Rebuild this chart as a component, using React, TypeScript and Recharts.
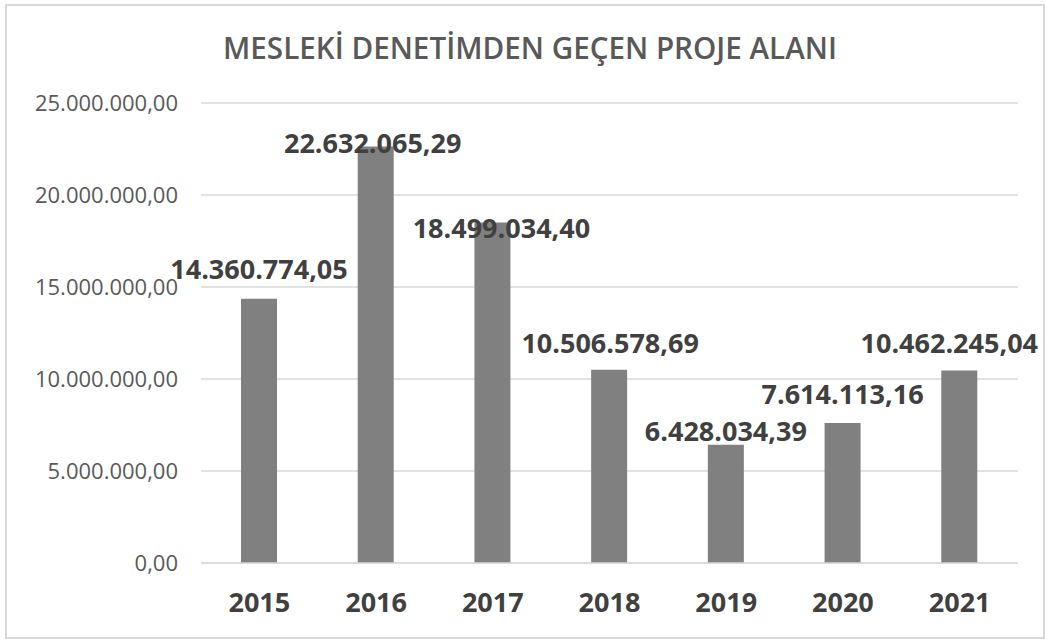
import React from 'react'
import { BarChart, Bar, XAxis, YAxis, CartesianGrid, LabelList } from 'recharts'

const years = ['2015', '2016', '2017', '2018', '2019', '2020', '2021']
const areas = [
  14360774.05, 22632065.29, 18499034.4, 10506578.69, 6428034.39, 7614113.16, 10462245.04,
]
const yTicks = [0, 5000000, 10000000, 15000000, 20000000, 25000000]

// label nudges, the Excel labels were dragged around by hand
const labelDx = [0, -3, 9, 1, 0, 0, -10]
const labelDy = [-20, 6, 15, -17, -4, -19, -17]

const data = years.map((year, i) => ({ year, area: areas[i] }))

function formatTr(v: number) {
  const [int, dec] = v.toFixed(2).split('.')
  return int.replace(/\B(?=(\d{3})+(?!\d))/g, '.') + ',' + dec
}

const font = '"Open Sans", sans-serif'

function BarLabel(props: any) {
  const { x, y, width, value, index } = props
  return (
    <text
      x={Number(x) + Number(width) / 2 + labelDx[index]}
      y={Number(y) + labelDy[index]}
      textAnchor="middle"
      fontFamily={font}
      fontWeight={700}
      fontSize={27}
      fill="#404040"
    >
      {formatTr(Number(value))}
    </text>
  )
}

export default function App() {
  return (
    <div style={{ position: 'absolute', left: 0, top: 0, width: 1047, height: 639, background: '#fff' }}>
      <div
        style={{
          position: 'absolute', left: 5, top: 4, width: 1036, height: 631,
          border: '2px solid #d9d9d9',
        }}
      />
      <svg width={1047} height={80} style={{ position: 'absolute', left: 0, top: 0 }}>
        <text
          x={530}
          y={59}
          textAnchor="middle"
          fontFamily={font}
          fontWeight={600}
          fontSize={30}
          fill="#595959"
          textLength={614}
          lengthAdjust="spacingAndGlyphs"
        >
          MESLEKİ DENETİMDEN GEÇEN PROJE ALANI
        </text>
      </svg>
      <div style={{ position: 'absolute', left: 0, top: 0 }}>
        <BarChart width={1047} height={639} data={data} margin={{ top: 103, right: 29, left: 0, bottom: 0 }}>
          <CartesianGrid vertical={false} stroke="#d9d9d9" strokeWidth={1.5} />
          <XAxis
            dataKey="year"
            height={76}
            axisLine={{ stroke: '#d9d9d9', strokeWidth: 1.5 }}
            tickLine={false}
            tickMargin={24}
            tick={{ fontFamily: font, fontWeight: 700, fontSize: 27, fill: '#404040' }}
          />
          <YAxis
            width={201}
            domain={[0, 25000000]}
            ticks={yTicks}
            axisLine={false}
            tickLine={false}
            tickMargin={17}
            tickFormatter={formatTr}
            tick={{ fontFamily: font, fontSize: 22, fill: '#595959' }}
          />
          <Bar dataKey="area" fill="#808080" barSize={36} isAnimationActive={false}>
            <LabelList dataKey="area" content={BarLabel} />
          </Bar>
        </BarChart>
      </div>
    </div>
  )
}
